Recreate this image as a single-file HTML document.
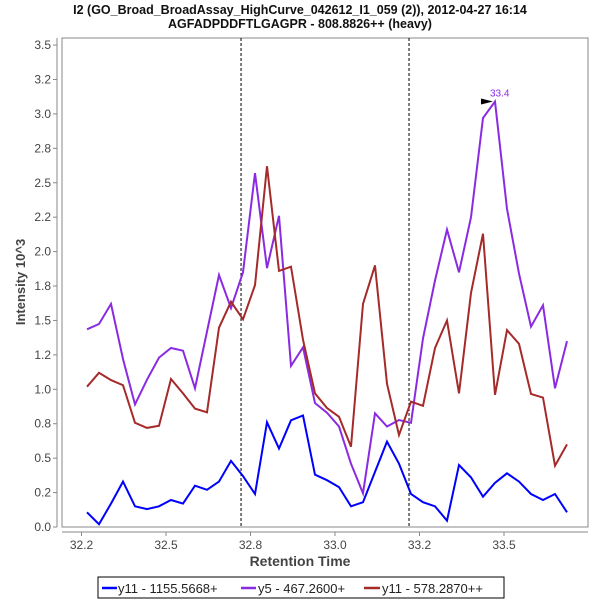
<!DOCTYPE html>
<html><head><meta charset="utf-8"><style>
body{margin:0;background:#fff;}
svg text{font-family:"Liberation Sans","DejaVu Sans",sans-serif;}
</style></head><body>
<svg id="c" width="600" height="600" xmlns="http://www.w3.org/2000/svg">
<text x="300" y="14" text-anchor="middle" font-size="12.5" font-weight="bold" fill="#111">I2 (GO_Broad_BroadAssay_HighCurve_042612_I1_059 (2)), 2012-04-27 16:14</text>
<text x="300" y="28" text-anchor="middle" font-size="12.5" font-weight="bold" fill="#111">AGFADPDDFTLGAGPR - 808.8826++ (heavy)</text>
<rect x="62" y="38" width="526" height="489" fill="#fff" stroke="#888"/>
<line x1="57" y1="38" x2="57" y2="527" stroke="#888"/>
<line x1="62" y1="532" x2="588" y2="532" stroke="#888"/>
<g id="yt"></g>
<g id="xt"></g>
<text x="300" y="566" text-anchor="middle" font-size="14" font-weight="bold" fill="#444">Retention Time</text>
<text transform="translate(25,282) rotate(-90)" text-anchor="middle" font-size="13" font-weight="bold" fill="#444">Intensity 10^3</text>
<g id="series"></g>
<g>
<rect x="98" y="577" width="406" height="21" fill="#fff" stroke="#000"/>
<line x1="102" y1="588" x2="117" y2="588" stroke="#0000ff" stroke-width="2.5"/>
<text x="118" y="593" font-size="13" fill="#222">y11 - 1155.5668+</text>
<line x1="241" y1="588" x2="256" y2="588" stroke="#8a2be2" stroke-width="2.5"/>
<text x="258" y="593" font-size="13" fill="#222">y5 - 467.2600+</text>
<line x1="364" y1="588" x2="380" y2="588" stroke="#a52a2a" stroke-width="2.5"/>
<text x="382" y="593" font-size="13" fill="#222">y11 - 578.2870++</text>
</g>
</svg>
<script>
const t0 = 32.2663, dt = 0.0355;
const blueVals = [0.107,0.02,0.17,0.33,0.15,0.13,0.15,0.196,0.17,0.30,0.27,0.33,0.48,0.37,0.24,0.76,0.57,0.775,0.81,0.38,0.34,0.29,0.15,0.18,0.40,0.62,0.46,0.24,0.18,0.15,0.046,0.45,0.36,0.22,0.32,0.39,0.33,0.24,0.196,0.24,0.107];
const purpleVals = [1.436,1.474,1.62,1.22,0.89,1.07,1.23,1.30,1.28,1.007,1.42,1.83,1.59,1.85,2.57,1.88,2.26,1.17,1.305,0.90,0.83,0.73,0.46,0.245,0.826,0.73,0.777,0.757,1.37,1.79,2.16,1.85,2.25,2.97,3.09,2.31,1.84,1.455,1.61,1.007,1.35];
const redVals = [1.019,1.12,1.067,1.03,0.757,0.72,0.736,1.075,0.97,0.86,0.833,1.447,1.636,1.508,1.757,2.62,1.86,1.89,1.36,0.97,0.864,0.80,0.583,1.62,1.90,1.04,0.668,0.91,0.88,1.30,1.50,0.97,1.70,2.13,0.96,1.43,1.33,0.966,0.94,0.445,0.60];
const yTickVals = [0,0.25,0.5,0.75,1,1.25,1.5,1.75,2,2.25,2.5,2.75,3,3.25,3.5];
const yTickLabels = ["0.0","0.2","0.5","0.8","1.0","1.2","1.5","1.8","2.0","2.2","2.5","2.8","3.0","3.2","3.5"];
const xTickVals = [32.25,32.5,32.75,33.0,33.25,33.5];
const xTickLabels = ["32.2","32.5","32.8","33.0","33.2","33.5"];
const markerTimes = [32.722,33.219];
const peakLabel = "33.4";

const NS="http://www.w3.org/2000/svg";
function xs(t){return 504+(t-33.5)*338;}
function ys(v){return 527-v*137.7;}
function mk(tag,attrs,parent){const e=document.createElementNS(NS,tag);for(const k in attrs)e.setAttribute(k,attrs[k]);parent.appendChild(e);return e;}
const yt=document.getElementById('yt'), xt=document.getElementById('xt'), sg=document.getElementById('series');
yTickVals.forEach((v,i)=>{
  const l=mk('line',{x1:53,x2:57,y1:ys(v),y2:ys(v),stroke:'#888'},yt);
  
  
  const tx=mk('text',{x:51,y:ys(v)+4,'text-anchor':'end','font-size':12,fill:'#444'},yt);
  tx.textContent=yTickLabels[i];
  
  
});
xTickVals.forEach((v,i)=>{
  const l=mk('line',{x1:xs(v),x2:xs(v),y1:532,y2:536,stroke:'#888'},xt);
  
  
  const tx=mk('text',{x:xs(v),y:549,'text-anchor':'middle','font-size':12,fill:'#444'},xt);
  tx.textContent=xTickLabels[i];
  
  
});
markerTimes.forEach(t=>{
  const l=mk('line',{x1:xs(t),x2:xs(t),y1:38,y2:527,stroke:'#000','stroke-dasharray':'3,2','stroke-width':1},sg);
  
  
});
function drawSeries(vals,color,name){
  const pts=vals.map((v,i)=>xs(t0+i*dt).toFixed(1)+','+ys(v).toFixed(1)).join(' ');
  const p=mk('polyline',{points:pts,fill:'none',stroke:color,'stroke-width':2,'stroke-linejoin':'miter'},sg);
  
  
}
drawSeries(purpleVals,'#8a2be2','series-y5');
drawSeries(redVals,'#a52a2a','series-y11-578');
drawSeries(blueVals,'#0000ff','series-y11-1155');
let pi=0;purpleVals.forEach((v,i)=>{if(v>purpleVals[pi])pi=i;});
const px=xs(t0+pi*dt), py=ys(purpleVals[pi]);
const tri=mk('polygon',{points:(px-14)+','+(py-3)+' '+(px-2)+','+py+' '+(px-14)+','+(py+3),fill:'#000'},sg);


const pl=mk('text',{x:px-5,y:py-5,'font-size':10,fill:'#8a2be2'},sg);
pl.textContent=peakLabel;


</script>
</body></html>
